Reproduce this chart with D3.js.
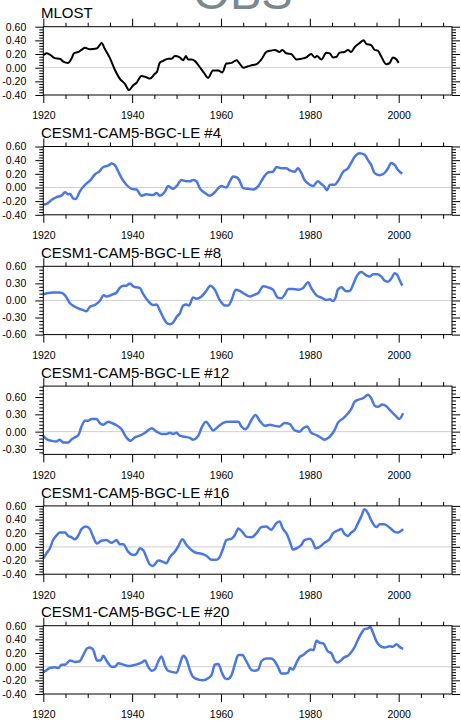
<!DOCTYPE html>
<html>
<head>
<meta charset="utf-8">
<script src="https://cdn.jsdelivr.net/npm/d3@7"></script>
<style>
body{margin:0;background:#fff;}
svg text{font-family:"Liberation Sans",Arial,Helvetica,sans-serif;}
</style>
</head>
<body>
<div id="chart"></div>
<script>
// panel titles
const titles = ["MLOST","CESM1-CAM5-BGC-LE #4","CESM1-CAM5-BGC-LE #8","CESM1-CAM5-BGC-LE #12","CESM1-CAM5-BGC-LE #16","CESM1-CAM5-BGC-LE #20"];
const xMajor = [1920,1940,1960,1980,2000];

// y tick labels per panel
const yTicks = [
  [-0.4,-0.2,0,0.2,0.4,0.6],
  [-0.4,-0.2,0,0.2,0.4,0.6],
  [-0.6,-0.3,0,0.3,0.6],
  [-0.3,0,0.3,0.6],
  [-0.4,-0.2,0,0.2,0.4,0.6],
  [-0.4,-0.2,0,0.2,0.4,0.6]
];
const yDomains = [[-0.4,0.6],[-0.4,0.6],[-0.6,0.6],[-0.395,0.79],[-0.4,0.6],[-0.4,0.6]];

// series: [year, anomaly]
const mlost = [[1920,0.18],[1920.75,0.21],[1921.5,0.19],[1922.6,0.14],[1923.7,0.13],[1924.5,0.09],[1925.6,0.07],[1926.4,0.14],[1926.9,0.21],[1927.9,0.23],[1928.6,0.26],[1929.4,0.29],[1930.5,0.27],[1932,0.28],[1932.7,0.33],[1933.1,0.36],[1933.9,0.27],[1935,0.14],[1936.1,-0.03],[1937.2,-0.16],[1938.4,-0.24],[1939.3,-0.33],[1940.2,-0.26],[1941,-0.22],[1942.1,-0.12],[1943.2,-0.14],[1944,-0.16],[1945.1,-0.09],[1945.6,-0.06],[1946.2,0.07],[1947,0.10],[1948.1,0.13],[1948.9,0.13],[1949.6,0.17],[1950.7,0.15],[1951.5,0.11],[1952.1,0.17],[1952.6,0.12],[1953.4,0.12],[1954.1,0.10],[1955.2,0.01],[1956.1,-0.07],[1957.1,-0.15],[1958.2,-0.04],[1959.4,-0.04],[1960.3,-0.07],[1961.2,0.06],[1962.4,0.07],[1963.5,0.11],[1964.2,0.06],[1965,0.00],[1966.1,0.02],[1967.2,0.04],[1968,0.05],[1969.1,0.12],[1970.2,0.23],[1971.3,0.25],[1972.1,0.26],[1973.2,0.23],[1973.8,0.26],[1974.7,0.21],[1975.8,0.20],[1977,0.12],[1978.1,0.13],[1979.2,0.15],[1980.3,0.20],[1981.1,0.15],[1981.6,0.17],[1982.6,0.12],[1983.7,0.22],[1984.5,0.21],[1985.2,0.15],[1986,0.16],[1986.7,0.22],[1987.8,0.23],[1988.6,0.26],[1989.3,0.23],[1990.1,0.30],[1991.2,0.36],[1992.1,0.40],[1992.7,0.35],[1993.8,0.33],[1994.6,0.26],[1995.3,0.25],[1996.1,0.16],[1997.2,0.05],[1998,0.07],[1998.7,0.15],[1999.5,0.12],[2000,0.07]];

const le4 = [[1920,-0.25],[1920.75,-0.24],[1921.9,-0.18],[1923,-0.14],[1924.1,-0.12],[1924.9,-0.07],[1925.6,-0.10],[1926,-0.09],[1926.7,-0.16],[1927.3,-0.17],[1928.2,-0.06],[1929.4,0.04],[1930.5,0.10],[1931.6,0.19],[1932.7,0.24],[1933.5,0.30],[1934.6,0.32],[1935.4,0.35],[1936.1,0.33],[1936.9,0.23],[1937.6,0.14],[1938.7,0.04],[1939.9,-0.02],[1941,-0.03],[1942.1,-0.12],[1943.2,-0.10],[1944.7,-0.11],[1945.5,-0.08],[1946.2,-0.12],[1947.4,-0.06],[1948.1,0.02],[1949.2,-0.02],[1950,0.02],[1951.1,0.11],[1952.2,0.09],[1953,0.09],[1953.7,0.11],[1954.5,0.09],[1955.2,-0.01],[1956.4,-0.08],[1957.5,-0.12],[1958.6,-0.07],[1959.4,-0.01],[1960.1,0.02],[1961.2,0.00],[1962,0.09],[1962.7,0.16],[1963.5,0.15],[1964.1,0.11],[1965,-0.01],[1966.1,-0.02],[1967.2,-0.03],[1968.4,0.02],[1969.5,0.14],[1970.6,0.22],[1971.7,0.23],[1972.5,0.30],[1973.6,0.28],[1974.7,0.28],[1975.5,0.25],[1976.6,0.23],[1977.3,0.28],[1978.1,0.21],[1978.8,0.11],[1980,0.04],[1980.7,0.02],[1981.8,0.09],[1982.6,0.05],[1983.3,0.01],[1983.9,-0.04],[1984.5,0.04],[1985.6,0.04],[1986.3,0.09],[1987.5,0.23],[1988.6,0.28],[1989.3,0.36],[1990.1,0.45],[1991.2,0.50],[1992.3,0.48],[1993.1,0.40],[1993.8,0.33],[1994.6,0.21],[1995.7,0.18],[1996.8,0.21],[1997.6,0.28],[1998.3,0.36],[1999.1,0.33],[1999.8,0.26],[2000.8,0.20]];

const le8 = [[1920,0.11],[1921.1,0.13],[1922.2,0.14],[1923.7,0.14],[1924.9,0.09],[1926,-0.05],[1927.1,-0.11],[1928.2,-0.15],[1929,-0.17],[1929.7,-0.19],[1930.5,-0.11],[1931.6,-0.08],[1932.7,-0.01],[1933.6,0.09],[1934.2,0.07],[1935.4,0.10],[1936.5,0.14],[1937.2,0.22],[1938,0.26],[1938.7,0.26],[1939.5,0.30],[1940.2,0.25],[1941,0.23],[1941.7,0.22],[1942.5,0.11],[1943.6,-0.01],[1944.7,-0.08],[1945.5,-0.07],[1946.2,-0.17],[1947,-0.30],[1947.7,-0.39],[1948.5,-0.42],[1949.2,-0.39],[1950,-0.29],[1950.7,-0.23],[1951.5,-0.09],[1952.2,-0.07],[1952.8,-0.09],[1953.7,0.05],[1954.5,0.03],[1955.6,0.07],[1956.7,0.17],[1957.6,0.26],[1958.6,0.19],[1959.7,0.01],[1960.9,-0.09],[1961.6,-0.09],[1962.4,0.01],[1963.3,0.19],[1964.2,0.17],[1965.4,0.11],[1966.5,0.07],[1967.2,0.09],[1968.4,0.13],[1969.5,0.25],[1970.6,0.23],[1971.7,0.19],[1972.8,0.05],[1973.6,0.04],[1974.4,0.11],[1975.1,0.20],[1976.2,0.20],[1977.3,0.19],[1978.5,0.22],[1979.6,0.32],[1980.3,0.22],[1981.5,0.09],[1982.6,0.05],[1983.7,0.01],[1984.5,0.02],[1985.2,-0.01],[1985.8,0.05],[1986.3,0.19],[1987.1,0.23],[1988.2,0.16],[1989,0.17],[1989.7,0.27],[1990.5,0.42],[1991.6,0.50],[1992.7,0.44],[1993.5,0.42],[1994.2,0.46],[1995.3,0.46],[1996.1,0.42],[1996.8,0.35],[1997.6,0.33],[1998.3,0.38],[1999.1,0.48],[1999.6,0.46],[2000.2,0.36],[2000.8,0.26]];

const le12 = [[1920,-0.07],[1920.75,-0.13],[1921.9,-0.16],[1923,-0.17],[1923.7,-0.14],[1924.5,-0.19],[1925.6,-0.19],[1926.4,-0.13],[1927.1,-0.10],[1927.9,-0.06],[1928.6,0.09],[1929.4,0.19],[1930.1,0.19],[1930.9,0.22],[1932,0.22],[1932.7,0.15],[1933.5,0.12],[1934.6,0.17],[1935.4,0.15],[1936.5,0.11],[1937.6,0.04],[1938.7,-0.10],[1939.6,-0.16],[1940.6,-0.10],[1941.7,-0.07],[1942.9,-0.02],[1944.4,0.06],[1945.5,0.00],[1946.6,-0.04],[1947.7,-0.04],[1948.5,-0.02],[1949.2,-0.04],[1950,-0.02],[1950.7,-0.07],[1951.9,-0.09],[1953,-0.11],[1953.7,-0.14],[1954.9,-0.07],[1955.6,0.06],[1956.6,0.17],[1957.5,0.09],[1958.2,0.02],[1959.4,0.09],[1960.5,0.15],[1961.6,0.17],[1962.7,0.17],[1963.9,0.17],[1964.6,0.09],[1965.4,0.04],[1966.1,0.09],[1966.9,0.21],[1967.8,0.29],[1968.7,0.19],[1969.9,0.10],[1971,0.12],[1972.1,0.10],[1973.2,0.09],[1974.3,0.15],[1975.5,0.13],[1976.6,0.02],[1977.7,0.00],[1978.5,0.06],[1979.4,0.09],[1980.3,-0.02],[1981.5,-0.06],[1982.6,-0.11],[1983.3,-0.14],[1984.1,-0.11],[1984.8,-0.06],[1985.6,0.03],[1986.3,0.15],[1987.5,0.23],[1988.6,0.32],[1989.3,0.39],[1990.1,0.52],[1990.8,0.55],[1992,0.58],[1993.1,0.64],[1993.8,0.58],[1994.6,0.45],[1995.3,0.43],[1996.3,0.47],[1997.2,0.44],[1998.3,0.35],[1999.5,0.26],[2000.1,0.22],[2001,0.32]];

const le16 = [[1920,-0.17],[1920.75,-0.09],[1921.5,-0.02],[1922.2,0.10],[1923,0.17],[1923.7,0.21],[1924.9,0.21],[1925.6,0.16],[1926.4,0.14],[1927.1,0.11],[1927.9,0.17],[1928.6,0.26],[1929.6,0.30],[1930.5,0.26],[1931.2,0.15],[1932.1,0.05],[1933.1,0.09],[1934.2,0.10],[1935.4,0.06],[1936.5,0.10],[1937.2,0.04],[1938,0.04],[1939.1,-0.07],[1940.2,-0.12],[1941,-0.10],[1941.7,-0.02],[1942.5,-0.05],[1943.2,-0.15],[1944,-0.26],[1944.7,-0.28],[1945.9,-0.20],[1947,-0.22],[1947.7,-0.24],[1948.5,-0.15],[1949.6,-0.07],[1950.4,0.01],[1951.3,0.11],[1952.2,0.03],[1953.4,-0.05],[1954.5,-0.09],[1955.6,-0.10],[1956.7,-0.13],[1957.9,-0.19],[1959,-0.19],[1959.7,-0.15],[1960.5,-0.02],[1961.2,0.10],[1962.4,0.12],[1963.1,0.17],[1963.9,0.27],[1964.8,0.22],[1965.7,0.15],[1966.9,0.14],[1968,0.20],[1969.1,0.29],[1970.2,0.30],[1971.3,0.25],[1972.5,0.35],[1973.2,0.37],[1973.9,0.27],[1974.7,0.20],[1975.5,0.08],[1976.2,-0.04],[1977.3,-0.01],[1978.1,0.03],[1978.8,0.10],[1980,0.12],[1980.6,0.08],[1981.3,-0.02],[1982.2,0.00],[1983.3,0.06],[1984.5,0.12],[1985.2,0.20],[1986.3,0.24],[1987.1,0.26],[1987.8,0.19],[1988.6,0.16],[1989.3,0.21],[1990.1,0.25],[1990.8,0.34],[1991.6,0.45],[1992.3,0.55],[1993.1,0.49],[1993.8,0.39],[1995,0.29],[1995.7,0.33],[1996.8,0.33],[1998,0.28],[1999.1,0.22],[1999.8,0.21],[2001,0.26]];

const le20 = [[1920,-0.08],[1920.75,-0.05],[1921.5,-0.02],[1922.6,-0.01],[1923.4,-0.02],[1924.1,0.03],[1924.9,0.03],[1926,0.09],[1927.1,0.07],[1928.2,0.08],[1929,0.17],[1929.9,0.27],[1930.5,0.28],[1931.2,0.25],[1932.1,0.09],[1932.9,0.09],[1933.5,0.16],[1934.2,0.09],[1935.4,0.00],[1936.1,0.00],[1936.9,0.05],[1938,0.03],[1939.1,0.01],[1940.2,0.02],[1941.4,0.04],[1942.1,0.06],[1942.9,0.09],[1943.6,0.00],[1944.4,-0.06],[1945.1,-0.04],[1945.9,0.08],[1946.6,0.15],[1947.4,0.01],[1948.1,-0.06],[1949.2,-0.08],[1950,-0.09],[1950.7,0.03],[1951.5,0.16],[1952.2,0.11],[1953,-0.05],[1953.7,-0.15],[1954.9,-0.19],[1956,-0.20],[1957.1,-0.17],[1957.9,-0.12],[1958.6,0.03],[1959.4,0.04],[1960.1,-0.07],[1960.9,-0.17],[1961.5,-0.18],[1962.4,-0.12],[1963.1,0.03],[1963.9,0.17],[1964.8,0.17],[1965.7,0.08],[1966.9,-0.05],[1967.6,-0.06],[1968.4,-0.04],[1969.1,0.08],[1970.2,0.12],[1971.3,0.12],[1972.1,0.08],[1972.8,0.00],[1973.6,-0.10],[1974.4,-0.10],[1975.1,-0.09],[1975.5,-0.02],[1976.2,-0.04],[1977,0.06],[1977.7,0.14],[1978.5,0.17],[1979.2,0.21],[1980.3,0.25],[1980.8,0.24],[1981.5,0.38],[1982.2,0.35],[1983,0.34],[1984.1,0.22],[1984.8,0.20],[1985.6,0.09],[1986.3,0.06],[1987.1,0.10],[1987.8,0.14],[1988.6,0.16],[1989.3,0.21],[1990.1,0.29],[1990.8,0.39],[1991.6,0.49],[1992.3,0.55],[1993.1,0.56],[1993.6,0.58],[1994.2,0.50],[1995,0.37],[1995.7,0.31],[1996.8,0.28],[1998,0.30],[1998.6,0.29],[1999.5,0.33],[2000.2,0.29],[2001,0.26]];

const series = [mlost, le4, le8, le12, le16, le20];
const lineColors = ["#000000","#4a78e0","#4a78e0","#4a78e0","#4a78e0","#4a78e0"];

const W = 461, H = 721;
const svg = d3.select("#chart").append("svg").attr("width", W).attr("height", H);

// big title, mostly above the page edge
svg.append("text")
  .attr("x", 243).attr("y", 8.5)
  .attr("text-anchor", "middle")
  .style("font-size", "47px")
  .style("fill", "#7b878e")
  .text("OBS");

const x = d3.scaleLinear().domain([1920, 2012]).range([43.3, 452]);
const xMinor = d3.range(1920, 2012, 5).filter(d => xMajor.indexOf(d) < 0);
const fmt = v => (Math.abs(v) < 1e-9 ? 0 : v).toFixed(2);
const ph = 68.3;

series.forEach(function(data, i) {
  const top = 26.7 + i * 119.8;
  const dom = yDomains[i];
  const y = d3.scaleLinear().domain(dom).range([top + ph, top]);
  const step = yTicks[i][1] - yTicks[i][0];
  const mstep = step / 5;
  const yMinor = [];
  for (let k = Math.ceil(dom[0] / mstep - 1e-6); k * mstep <= dom[1] + 1e-6; k++) {
    const v = k * mstep;
    if (!yTicks[i].some(t => Math.abs(t - v) < 1e-6)) yMinor.push(v);
  }
  const g = svg.append("g");

  // zero line
  g.append("line")
    .attr("x1", x.range()[0]).attr("x2", x.range()[1])
    .attr("y1", y(0)).attr("y2", y(0))
    .attr("stroke", "#cfcfcf").attr("stroke-width", 1);

  // data line
  const line = d3.line().x(d => x(d[0])).y(d => y(d[1])).curve(d3.curveMonotoneX);
  g.append("path").datum(data)
    .attr("d", line)
    .attr("fill", "none")
    .attr("stroke", lineColors[i])
    .attr("stroke-width", i == 0 ? 2 : 2.5)
    .attr("stroke-linejoin", "round");

  // axes
  const bottomY = top + ph;
  const mk = function(axis, tr, labels) {
    const a = g.append("g").attr("transform", tr).call(axis);
    a.select(".domain").remove();
    a.selectAll(".tick line").attr("stroke", "#000");
    if (!labels) a.selectAll("text").remove();
    else a.selectAll("text").style("font-size", "10.5px").style("fill", "#000");
    return a;
  };
  mk(d3.axisBottom(x).tickValues(xMajor).tickSize(8).tickPadding(9).tickFormat(d3.format("d")), "translate(0," + bottomY + ")", true);
  mk(d3.axisBottom(x).tickValues(xMinor).tickSize(4), "translate(0," + bottomY + ")", false);
  mk(d3.axisTop(x).tickValues(xMajor).tickSize(8), "translate(0," + top + ")", false);
  mk(d3.axisTop(x).tickValues(xMinor).tickSize(4), "translate(0," + top + ")", false);
  mk(d3.axisLeft(y).tickValues(yTicks[i]).tickSize(8).tickPadding(9).tickFormat(fmt), "translate(" + x.range()[0] + ",0)", true);
  mk(d3.axisLeft(y).tickValues(yMinor).tickSize(4), "translate(" + x.range()[0] + ",0)", false);
  mk(d3.axisRight(y).tickValues(yTicks[i]).tickSize(8), "translate(" + x.range()[1] + ",0)", false);
  mk(d3.axisRight(y).tickValues(yMinor).tickSize(4), "translate(" + x.range()[1] + ",0)", false);

  // frame
  g.append("rect")
    .attr("x", x.range()[0]).attr("y", top)
    .attr("width", x.range()[1] - x.range()[0]).attr("height", ph)
    .attr("fill", "none").attr("stroke", "#000").attr("stroke-width", 1);

  // title
  g.append("text")
    .attr("x", 41).attr("y", top - 8.4)
    .style("font-size", "15px")
    .style("fill", "#000")
    .text(titles[i]);
});
</script>
</body>
</html>
